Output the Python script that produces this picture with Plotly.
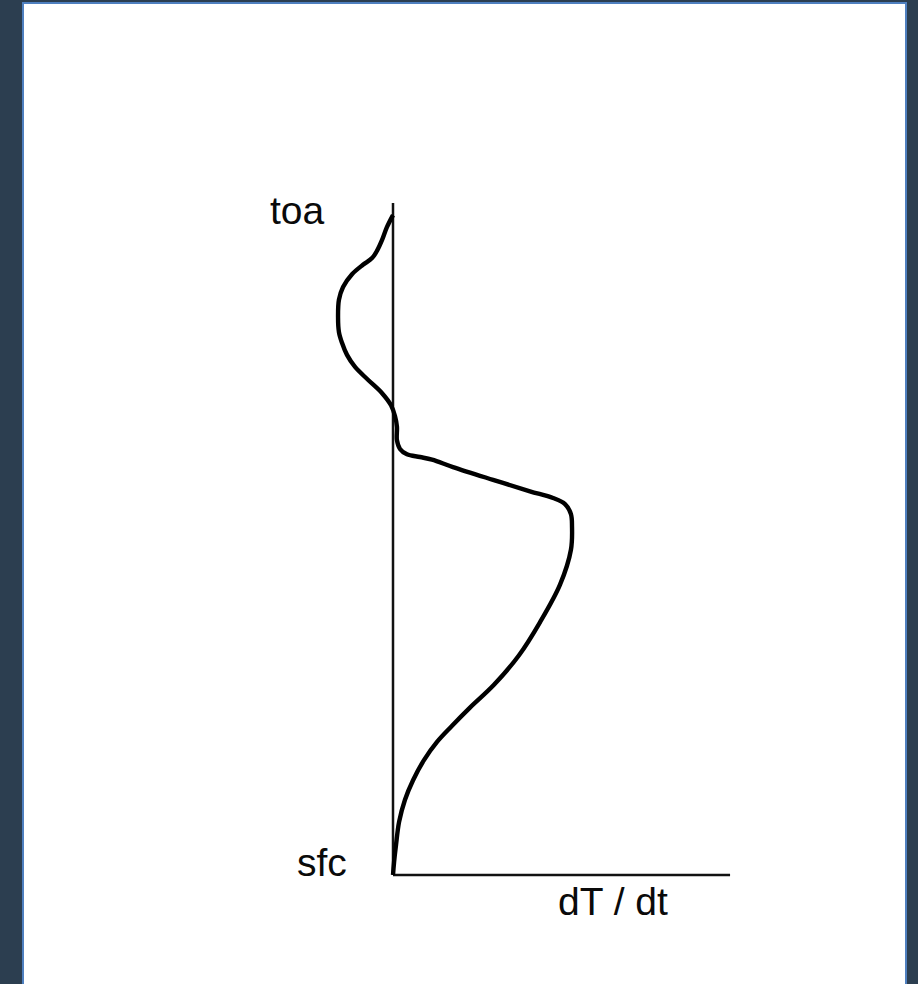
import plotly.graph_objects as go

# Heating-rate profile: dT/dt (normalised to its peak) against height
# (0 = surface, 1 = top of the atmosphere axis).
heating = [0.000, -0.034, -0.061, -0.089, -0.117, -0.168, -0.229, -0.279, -0.302, -0.307,
           -0.302, -0.285, -0.257, -0.212, -0.140, -0.061, -0.011, 0.011, 0.022, 0.022,
           0.039, 0.078, 0.151, 0.218, 0.335, 0.559, 0.765, 0.894, 0.961, 0.994,
           1.000, 0.994, 0.933, 0.821, 0.704, 0.564, 0.430, 0.330, 0.246, 0.173,
           0.112, 0.067, 0.034, 0.017, 0.006, 0.000]
height = [0.982, 0.964, 0.945, 0.929, 0.918, 0.908, 0.894, 0.875, 0.856, 0.830,
          0.808, 0.792, 0.774, 0.756, 0.737, 0.717, 0.699, 0.683, 0.667, 0.647,
          0.634, 0.626, 0.622, 0.618, 0.607, 0.588, 0.571, 0.561, 0.552, 0.537,
          0.519, 0.484, 0.432, 0.376, 0.327, 0.283, 0.249, 0.222, 0.198, 0.171,
          0.141, 0.112, 0.079, 0.045, 0.019, 0.000]

# Hand-drawn axes
vert_axis_x = [0.0, 0.0]
vert_axis_y = [0.0, 1.0]
horiz_axis_x = [0.0, 1.883]
horiz_axis_y = [0.0, 0.0]

top_label = "toa"
bottom_label = "sfc"
x_label = "dT / dt"

W, H = 918, 984
# scale: pixels per unit in each direction and pixel position of the origin
px_per_x, px_per_y = 179.0, 672.0
origin_px, origin_py = 393.0, 875.0
x_range = [-origin_px / px_per_x, (W - origin_px) / px_per_x]
y_range = [-(H - origin_py) / px_per_y, origin_py / px_per_y]

fig = go.Figure()
fig.add_trace(go.Scatter(x=vert_axis_x, y=vert_axis_y, mode="lines",
                         line=dict(color="#111111", width=2.5), hoverinfo="skip"))
fig.add_trace(go.Scatter(x=horiz_axis_x, y=horiz_axis_y, mode="lines",
                         line=dict(color="#111111", width=2.5), hoverinfo="skip"))
fig.add_trace(go.Scatter(x=heating, y=height, mode="lines",
                         line=dict(color="#000000", width=4.4, shape="spline", smoothing=1.0),
                         hoverinfo="skip"))

font = dict(family="Liberation Sans, Arial, sans-serif", size=39, color="#0a0a0a")

def px(xp):
    return xp / W

def py(yp):
    return 1 - yp / H

fig.update_layout(
    width=W, height=H, autosize=False,
    margin=dict(l=0, r=0, t=0, b=0),
    paper_bgcolor="#2c3e50",
    plot_bgcolor="rgba(0,0,0,0)",
    showlegend=False,
    xaxis=dict(range=x_range, visible=False, fixedrange=True),
    yaxis=dict(range=y_range, visible=False, fixedrange=True),
    shapes=[dict(type="rect", xref="paper", yref="paper",
                 x0=px(23), x1=px(906), y0=-0.02, y1=py(3),
                 fillcolor="#ffffff", line=dict(color="#4f80c0", width=2),
                 layer="below")],
    annotations=[
        dict(text=top_label, xref="paper", yref="paper", x=px(327), y=py(211),
             xanchor="right", yanchor="middle", showarrow=False, font=font),
        dict(text=bottom_label, xref="paper", yref="paper", x=px(349), y=py(862),
             xanchor="right", yanchor="middle", showarrow=False, font=font),
        dict(text=x_label, xref="paper", yref="paper", x=px(556), y=py(901),
             xanchor="left", yanchor="middle", showarrow=False, font=font),
    ],
)

fig.write_html("out.html")
